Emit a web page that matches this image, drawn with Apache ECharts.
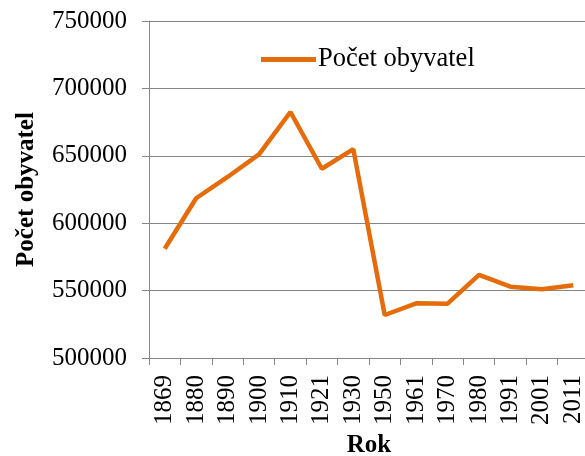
<!DOCTYPE html>
<html>
<head>
<meta charset="utf-8">
<script src="https://cdn.jsdelivr.net/npm/echarts@6/dist/echarts.min.js"></script>
<style>
html, body { margin: 0; padding: 0; background: #fff; }
#chart { width: 585px; height: 456px; }
</style>
</head>
<body>
<div id="chart"></div>
<script>
// roky a počty obyvatel
var years = ['1869', '1880', '1890', '1900', '1910', '1921', '1930', '1950', '1961', '1970', '1980', '1991', '2001', '2011'];
var population = [581000, 618500, 634300, 651000, 682500, 640400, 655000, 531900, 540600, 540300, 561600, 552900, 551000, 553900];
var seriesName = 'Počet obyvatel';

var font = 'Liberation Serif, Times New Roman, serif';
var chart = echarts.init(document.getElementById('chart'));
chart.setOption({
  animation: false,
  legend: {
    left: 256,
    top: 41,
    icon: 'rect',
    itemWidth: 55,
    itemHeight: 5,
    itemGap: 7,
    textStyle: { fontFamily: font, fontSize: 26.5, color: '#000', padding: [0, 0, 0, -3] },
    data: [seriesName]
  },
  grid: { left: 149, top: 21, width: 440, bottom: 98, containLabel: false, outerBoundsMode: 'none' },
  xAxis: {
    type: 'category',
    data: years,
    boundaryGap: true,
    name: 'Rok',
    nameLocation: 'middle',
    nameGap: 75,
    nameTextStyle: { fontFamily: font, fontSize: 25, fontWeight: 'bold', color: '#000' },
    axisLine: { lineStyle: { color: '#868686', width: 1 } },
    axisTick: { show: true, alignWithLabel: false, length: 7, lineStyle: { color: '#868686' } },
    axisLabel: { rotate: 90, margin: 17, interval: 0, fontFamily: font, fontSize: 25, color: '#000' },
    splitLine: { show: false }
  },
  yAxis: {
    type: 'value',
    min: 500000,
    max: 750000,
    interval: 50000,
    name: 'Počet obyvatel',
    nameLocation: 'middle',
    nameGap: 110,
    nameTextStyle: { fontFamily: font, fontSize: 25, fontWeight: 'bold', color: '#000' },
    axisLine: { show: true, lineStyle: { color: '#868686', width: 1 } },
    axisTick: { show: true, length: 7, lineStyle: { color: '#868686' } },
    axisLabel: { margin: 22, fontFamily: font, fontSize: 25, color: '#000', formatter: function (v) { return String(v); } },
    splitLine: { lineStyle: { color: '#868686', width: 1 } }
  },
  series: [{
    name: seriesName,
    type: 'line',
    data: population,
    symbol: 'none',
    lineStyle: { color: '#E46C0A', width: 4.5 },
    itemStyle: { color: '#E46C0A' }
  }]
});
</script>
</body>
</html>
